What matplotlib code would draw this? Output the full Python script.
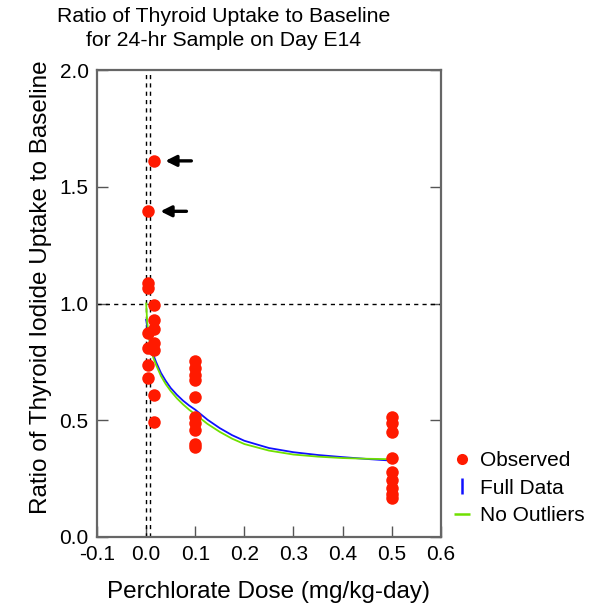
import matplotlib.pyplot as plt
from matplotlib.lines import Line2D

# --- Data ---
x_ctrl = 0.003
y_ctrl = [1.395, 1.086, 1.065, 0.872, 0.810, 0.737, 0.682]
x_low = 0.015
y_low = [1.611, 0.994, 0.929, 0.889, 0.829, 0.801, 0.608, 0.494]
x_mid = 0.1
y_mid = [0.755, 0.725, 0.695, 0.672, 0.600, 0.515, 0.487, 0.458, 0.400, 0.385]
x_high = 0.5
y_high = [0.515, 0.487, 0.451, 0.337, 0.280, 0.244, 0.208, 0.185, 0.166]

# fitted curves
fit_x = [0.0, 0.002, 0.005, 0.0075, 0.01, 0.015, 0.02, 0.03, 0.04, 0.05, 0.0625, 0.075,
         0.0875, 0.1, 0.125, 0.15, 0.175, 0.2, 0.25, 0.3, 0.35, 0.4, 0.45, 0.5]
full_y = [0.930, 0.900, 0.865, 0.838, 0.815, 0.778, 0.750, 0.703, 0.668, 0.638, 0.609, 0.584,
          0.563, 0.545, 0.502, 0.466, 0.436, 0.412, 0.381, 0.363, 0.351, 0.342, 0.334, 0.327]
noout_y = [1.000, 0.920, 0.870, 0.830, 0.800, 0.765, 0.738, 0.690, 0.654, 0.625, 0.594, 0.568,
           0.545, 0.525, 0.484, 0.450, 0.421, 0.398, 0.370, 0.353, 0.344, 0.338, 0.335, 0.333]

# arrows pointing at the two outliers: (tip x, tail x, y)
arrows = [(0.039, 0.092, 1.611), (0.029, 0.082, 1.395)]

plt.rcParams['font.family'] = ['Liberation Sans', 'DejaVu Sans']

fig = plt.figure(figsize=(6.03, 6.04), dpi=100)
ax = fig.add_axes([0.161, 0.111, 0.570, 0.773])

# reference lines
ax.axhline(1.0, color='black', lw=1, ls=(0, (3, 3)))
ax.axvline(0.0, color='black', lw=1, ls=(0, (3, 3)))
ax.axvline(0.008, color='black', lw=1, ls=(0, (3, 3)))

# fitted curves
ax.plot(fit_x, full_y, color='#1010ff', lw=1.3)
ax.plot(fit_x, noout_y, color='#70e000', lw=1.3)

# observations
dot = dict(ls='none', marker='o', ms=9, color='#ff1a00', mec='none')
ax.plot([x_ctrl] * len(y_ctrl), y_ctrl, **dot)
ax.plot([x_low] * len(y_low), y_low, **dot)
ax.plot([x_mid] * len(y_mid), y_mid, **dot)
ax.plot([x_high] * len(y_high), y_high, **dot)

for tip, tail, yy in arrows:
    ax.annotate('', xy=(tip, yy), xytext=(tail, yy),
                arrowprops=dict(arrowstyle='-|>', color='black', lw=2.4,
                                mutation_scale=16, shrinkA=0, shrinkB=0))

ax.set_xlim(-0.1, 0.6)
ax.set_ylim(0.0, 2.0)
ax.set_xticks([-0.1, 0.0, 0.1, 0.2, 0.3, 0.4, 0.5, 0.6])
ax.set_yticks([0.0, 0.5, 1.0, 1.5, 2.0])
ax.set_xticklabels(['-0.1', '0.0', '0.1', '0.2', '0.3', '0.4', '0.5', '0.6'])
ax.set_yticklabels(['0.0', '0.5', '1.0', '1.5', '2.0'])
ax.tick_params(direction='in', length=8, width=1, labelsize=15, pad=6,
               right=True, color='#555555')
for s in ax.spines.values():
    s.set_color('#666666')
    s.set_linewidth(1.6)

ax.set_xlabel('Perchlorate Dose (mg/kg-day)', fontsize=17.5, labelpad=12)
ax.set_ylabel('Ratio of Thyroid Iodide Uptake to Baseline', fontsize=17.5)
ax.yaxis.set_label_coords(-0.13, 0.535)
fig.text(0.371, 0.988, 'Ratio of Thyroid Uptake to Baseline\nfor 24-hr Sample on Day E14',
         ha='center', va='top', fontsize=15.3, linespacing=1.3)

handles = [
    Line2D([], [], ls='none', marker='o', ms=8, color='#ff1a00', mec='none'),
    Line2D([], [], ls='none', marker='|', ms=12, mew=1.8, color='#1010ff'),
    Line2D([], [], ls='none', marker='_', ms=12, mew=1.8, color='#70e000'),
]
fig.legend(handles, ['Observed', 'Full Data', 'No Outliers'],
           loc='center left', bbox_to_anchor=(0.722, 0.192), frameon=False,
           fontsize=15, handlelength=0.8, handletextpad=0.45, labelspacing=0.4)

plt.savefig('out.png')
